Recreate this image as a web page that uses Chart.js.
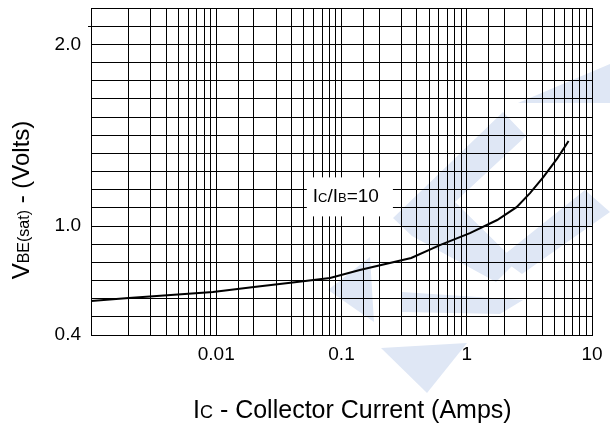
<!DOCTYPE html>
<html>
<head>
<meta charset="utf-8">
<script src="https://cdn.jsdelivr.net/npm/chart.js@4/dist/chart.umd.min.js"></script>
<style>
  html, body { margin: 0; padding: 0; background: #fff; }
  #wrap { width: 610px; height: 425px; position: relative; }
</style>
</head>
<body>
<div id="wrap"><canvas id="vbeChart"></canvas></div>
<script>
// collector current (A) and VBE(sat) (V) for IC/IB = 10
const currentA = [0.001, 0.002, 0.0094, 0.02, 0.044, 0.081, 0.14, 0.36, 0.61, 1.06, 1.75, 2.5, 3.2, 4.1, 5.3, 6.5];
const vbeSat   = [0.587, 0.604, 0.637, 0.664, 0.692, 0.714, 0.758, 0.824, 0.895, 0.961, 1.033, 1.104, 1.181, 1.27, 1.374, 1.468];

// axis ticks that carry a label
const xTickLabels = [0.01, 0.1, 1, 10];
const yTickLabels = [0.4, 1.0, 2.0];

const FONT = "'Liberation Sans', Arial, Helvetica, sans-serif";

// faint logo behind the grid (pixel polygons, decoration only)
const watermark = [
  [[518,103],[610,64],[610,103]],
  [[393,218],[503,112],[526,136],[455,202],[516,262],[496,282],[412,236]],
  [[585,190],[610,212],[522,274],[500,258]],
  [[402,292],[523,300],[500,314],[402,312]],
  [[328,290],[370,257],[374,322]],
  [[381,348],[467,343],[427,393]]
];

const decorations = {
  id: "decorations",
  beforeDraw(chart) {
    const ctx = chart.ctx;
    ctx.save();
    ctx.fillStyle = "#dfe7f5";
    watermark.forEach(poly => {
      ctx.beginPath();
      poly.forEach((p, i) => i ? ctx.lineTo(p[0], p[1]) : ctx.moveTo(p[0], p[1]));
      ctx.closePath();
      ctx.fill();
    });
    ctx.restore();
  },
  afterDraw(chart) {
    const ctx = chart.ctx;
    const xs = chart.scales.x, ys = chart.scales.y;

    // draws [text, size] runs starting at x, returns end x
    function runs(parts, x, y) {
      parts.forEach(([t, size]) => {
        ctx.font = size + "px " + FONT;
        ctx.fillText(t, x, y);
        x += ctx.measureText(t).width;
      });
      return x;
    }
    function width(parts) {
      let w = 0;
      parts.forEach(([t, size]) => { ctx.font = size + "px " + FONT; w += ctx.measureText(t).width; });
      return w;
    }

    ctx.save();
    ctx.fillStyle = "#000";
    ctx.textBaseline = "alphabetic";
    ctx.textAlign = "left";

    // annotation IC/IB=10 on a white box
    const ann = [["I", 19], ["C", 13], ["/", 19], ["I", 19], ["B", 13], ["=10", 19]];
    const ax = xs.getPixelForValue(0.059), ay = ys.getPixelForValue(1.13);
    const aw = width(ann);
    ctx.fillStyle = "#fff";
    ctx.fillRect(ax - 6, ay - 25, aw + 20, 39);
    ctx.fillStyle = "#000";
    runs(ann, ax, ay);

    // x title
    const xt = [["I", 25], ["C", 18], [" - Collector Current (Amps)", 25]];
    runs(xt, 193, 418);

    // y title, rotated
    const yt = [["V", 24], ["BE(sat)", 16], [" - (Volts)", 24]];
    ctx.translate(29, 200);
    ctx.rotate(-Math.PI / 2);
    runs(yt, -width(yt) / 2, 0);
    ctx.restore();
  }
};

const isLabelled = (v, list) => list.some(t => Math.abs(v - t) < t * 1e-6);

new Chart(document.getElementById("vbeChart"), {
  type: "line",
  data: {
    datasets: [{
      data: currentA.map((c, i) => ({ x: c, y: vbeSat[i] })),
      borderColor: "#000",
      borderWidth: 2,
      pointRadius: 0,
      tension: 0,
      fill: false
    }]
  },
  options: {
    responsive: true,
    maintainAspectRatio: false,
    animation: false,
    layout: { padding: { left: 0, top: 8, right: 18, bottom: 0 } },
    plugins: { legend: { display: false }, tooltip: { enabled: false } },
    scales: {
      x: {
        type: "logarithmic",
        min: 0.001,
        max: 10,
        afterFit(scale) {
          scale.height = 90;
          scale.paddingLeft = 0;
          scale.paddingRight = 0;
        },
        border: { display: true, color: "#000", width: 1 },
        grid: { color: "#000", lineWidth: 1, drawTicks: false },
        ticks: {
          autoSkip: false,
          maxRotation: 0,
          padding: 8,
          color: "#000",
          font: { family: FONT, size: 19 },
          callback: v => isLabelled(v, xTickLabels) ? String(v) : ""
        }
      },
      y: {
        type: "linear",
        min: 0.4,
        max: 2.2,
        afterFit(scale) {
          scale.width = 91;
          scale.paddingTop = 0;
          scale.paddingBottom = 0;
        },
        border: { display: true, color: "#000", width: 1 },
        grid: {
          color: "#000",
          lineWidth: 1,
          tickLength: 3,
          tickColor: c => Math.abs(c.tick.value - 2.1) < 1e-6 ? "#000" : "rgba(0,0,0,0)"
        },
        ticks: {
          stepSize: 0.1,
          autoSkip: false,
          padding: 7,
          color: "#000",
          font: { family: FONT, size: 19 },
          callback: v => isLabelled(v, yTickLabels) ? v.toFixed(1) : ""
        }
      }
    }
  },
  plugins: [decorations]
});
</script>
</body>
</html>
